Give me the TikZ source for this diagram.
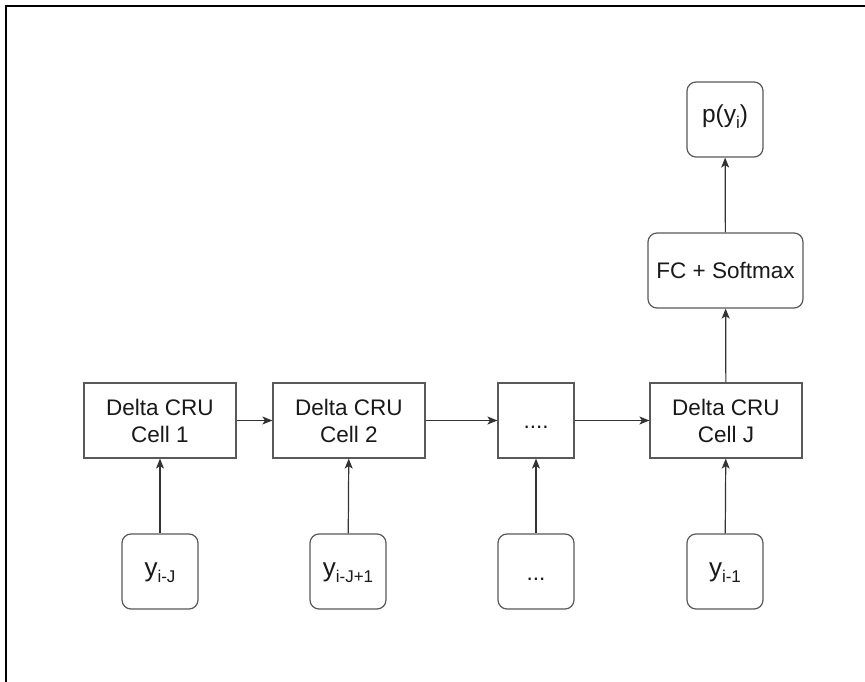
\documentclass[tikz,border=0pt]{standalone}
\usepackage{fontspec}
\setmainfont{Liberation Sans}
\usetikzlibrary{arrows.meta}
\newcommand{\mysub}[1]{\raisebox{-6pt}{\fontsize{17}{17}\selectfont #1}}
\begin{document}
\begin{tikzpicture}[x=1pt,y=-1pt,
  box/.style={draw=black!65, line width=1.2pt, inner sep=0pt, fill=white,
    font=\fontsize{22.5}{27}\selectfont, text=black!90},
  sqbox/.style={box, minimum width=152pt, minimum height=75pt, align=center},
  rbox/.style={box, rounded corners=9pt, minimum height=75pt, minimum width=76pt, text height=18pt, text depth=2pt},
  ylab/.style={rbox, font=\fontsize{26}{30}\selectfont, text height=16pt, text depth=6pt},
  plab/.style={rbox, font=\fontsize{24.5}{30}\selectfont, text height=14pt, text depth=8pt},
  dbox/.style={box, minimum width=76pt, minimum height=75pt, text height=17pt, text depth=2pt},
  conn/.style={draw=black!80, line width=1.2pt, -{Stealth[length=10pt,width=8pt,inset=2.5pt]}}
]
\useasboundingbox (0,0) rectangle (865,682);
\draw[line width=1.3pt] (865,6) -- (6,6) -- (6,682);

\node[sqbox] (c1) at (160,420.5) {Delta CRU\\Cell 1};
\node[sqbox] (c2) at (349,420.5) {Delta CRU\\Cell 2};
\node[dbox] (cd) at (536,420.5) {....};
\node[sqbox] (cJ) at (726,420.5) {Delta CRU\\Cell J};

\node[ylab] (i1) at (160,571.5) {y\mysub{i-J}};
\node[ylab] (i2) at (348,571.5) {y\mysub{i-J+1}};
\node[rbox, text height=19pt, text depth=2pt] (i3) at (536,571.5) {...};
\node[ylab] (i4) at (725,571.5) {y\mysub{i-1}};

\node[rbox, minimum width=155pt] (fc) at (725.5,270.5) {FC + Softmax};
\node[plab] (p) at (725,119.5) {p(y\mysub{i})};

\draw[conn] (c1) -- (c2);
\draw[conn] (c2) -- (cd);
\draw[conn] (cd) -- (cJ);
\draw[conn] (i1) -- (c1);
\draw[conn] (i2) -- (c2);
\draw[conn] (i3) -- (cd);
\draw[conn] (i4) -- (cJ);
\draw[conn] (cJ) -- (fc);
\draw[conn] (fc) -- (p);
\end{tikzpicture}
\end{document}
